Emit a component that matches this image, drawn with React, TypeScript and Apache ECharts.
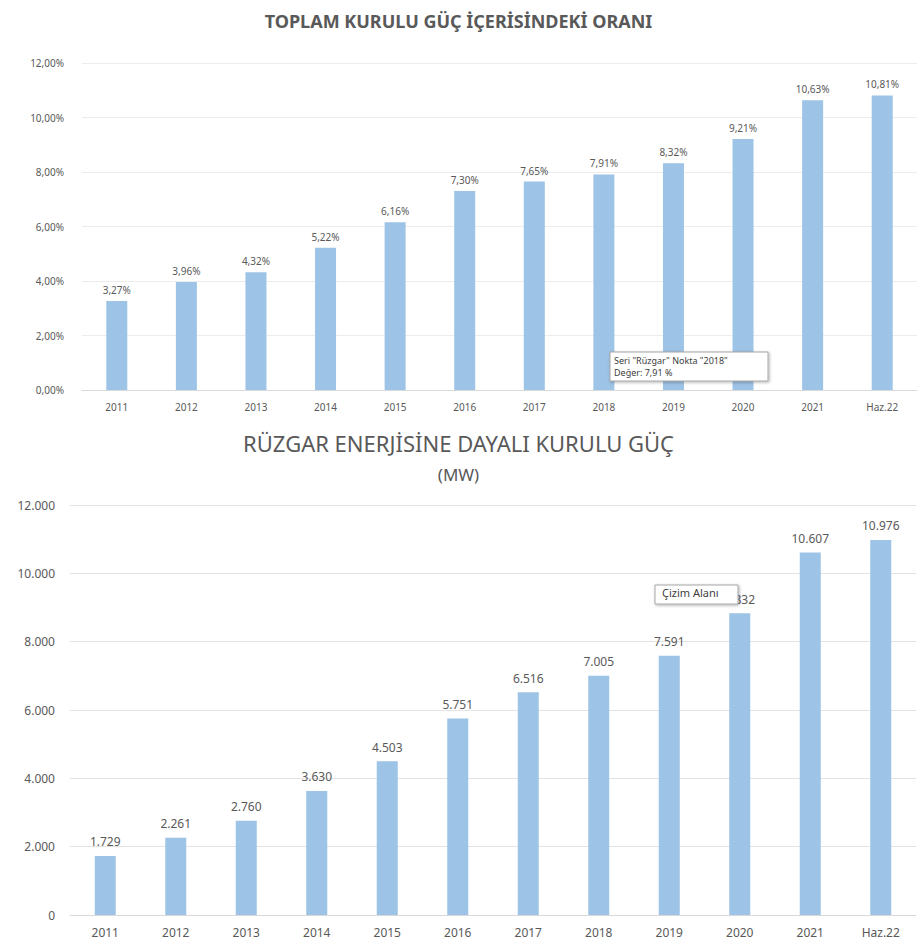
import React, { useEffect, useRef } from "react";
import * as echarts from "echarts";

const categories = ["2011", "2012", "2013", "2014", "2015", "2016", "2017", "2018", "2019", "2020", "2021", "Haz.22"];
const shareValues = [3.27, 3.96, 4.32, 5.22, 6.16, 7.3, 7.65, 7.91, 8.32, 9.21, 10.63, 10.81];
const capacityValues = [1729, 2261, 2760, 3630, 4503, 5751, 6516, 7005, 7591, 8832, 10607, 10976];
const topTitle = "TOPLAM KURULU GÜÇ İÇERİSİNDEKİ ORANI";
const bottomTitle = "RÜZGAR ENERJİSİNE DAYALI KURULU GÜÇ";
const bottomSubtitle = "(MW)";
const topTipLines = ['Seri "Rüzgar" Nokta "2018"', "Değer: 7,91 %"];
const bottomTipText = "Çizim Alanı";

const FONT = "Noto Sans";
const BAR = "#9DC3E6";
const TXT = "#595959";

const pct = (v: number) => v.toFixed(2).replace(".", ",") + "%";
const thousands = (v: number) => String(Math.round(v)).replace(/\B(?=(\d{3})+(?!\d))/g, ".");

export default function App() {
  const ref = useRef<HTMLDivElement>(null);
  useEffect(() => {
    if (!ref.current) return;
    const chart = echarts.init(ref.current, undefined, { renderer: "svg" });
    chart.setOption({
      animation: false,
      backgroundColor: "#ffffff",
      textStyle: { fontFamily: FONT },
      grid: [
        { left: 82, right: -10, top: 63, bottom: 552, containLabel: false },
        { left: 70, right: 1, top: 505, bottom: 27, containLabel: false },
      ],
      xAxis: [
        {
          type: "category",
          gridIndex: 0,
          data: categories,
          axisLine: { lineStyle: { color: "#D9D9D9" } },
          axisTick: { show: false },
          axisLabel: { color: TXT, fontSize: 10, margin: 12, fontFamily: FONT },
        },
        {
          type: "category",
          gridIndex: 1,
          data: categories,
          axisLine: { lineStyle: { color: "#D9D9D9" } },
          axisTick: { show: false },
          axisLabel: { color: TXT, fontSize: 12, margin: 11, fontFamily: FONT },
        },
      ],
      yAxis: [
        {
          type: "value",
          gridIndex: 0,
          min: 0,
          max: 12,
          interval: 2,
          axisLine: { show: false },
          axisTick: { show: false },
          splitLine: { lineStyle: { color: "#ECECEC" } },
          axisLabel: { color: TXT, fontSize: 10, margin: 18, formatter: (v: number) => pct(v), fontFamily: FONT },
        },
        {
          type: "value",
          gridIndex: 1,
          min: 0,
          max: 12000,
          interval: 2000,
          axisLine: { show: false },
          axisTick: { show: false },
          splitLine: { lineStyle: { color: "#E3E3E3" } },
          axisLabel: { color: TXT, fontSize: 12, margin: 15, formatter: (v: number) => thousands(v), fontFamily: FONT },
        },
      ],
      series: [
        {
          type: "bar",
          xAxisIndex: 0,
          yAxisIndex: 0,
          data: shareValues,
          barWidth: 21,
          itemStyle: { color: BAR },
          label: {
            show: true,
            position: "top",
            distance: 6,
            color: TXT,
            fontSize: 10,
            fontFamily: FONT,
            formatter: (p: any) => pct(p.value),
          },
        },
        {
          type: "bar",
          xAxisIndex: 1,
          yAxisIndex: 1,
          data: capacityValues,
          barWidth: 21,
          itemStyle: { color: BAR },
          label: {
            show: true,
            position: "top",
            distance: 8,
            color: TXT,
            fontSize: 12,
            fontFamily: FONT,
            formatter: (p: any) => thousands(p.value),
          },
        },
      ],
      graphic: [
        {
          type: "text",
          left: "center",
          top: 12,
          style: { text: topTitle, font: `bold 18px "${FONT}"`, fill: "#595959" },
        },
        {
          type: "text",
          left: "center",
          top: 432,
          style: { text: bottomTitle, font: `22px "${FONT}"`, fill: "#595959" },
        },
        {
          type: "text",
          left: "center",
          top: 466,
          style: { text: bottomSubtitle, font: `17px "${FONT}"`, fill: "#595959" },
        },
        {
          type: "group",
          z: 100,
          children: [
            {
              type: "rect",
              shape: { x: 610, y: 352, width: 158, height: 29 },
              style: { fill: "#ffffff", stroke: "#A6A6A6", lineWidth: 1, shadowBlur: 3, shadowColor: "rgba(0,0,0,0.3)", shadowOffsetX: 1, shadowOffsetY: 1 },
              z: 100,
            },
            {
              type: "text",
              x: 614,
              y: 354,
              style: { text: topTipLines.join("\n"), font: `9px "${FONT}"`, fill: "#404040", lineHeight: 12 },
              z: 101,
            },
          ],
        },
        {
          type: "group",
          z: 100,
          children: [
            {
              type: "rect",
              shape: { x: 655, y: 585, width: 83, height: 19 },
              style: { fill: "#ffffff", stroke: "#A6A6A6", lineWidth: 1, shadowBlur: 3, shadowColor: "rgba(0,0,0,0.3)", shadowOffsetX: 1, shadowOffsetY: 1 },
              z: 100,
            },
            {
              type: "text",
              x: 662,
              y: 587,
              style: { text: bottomTipText, font: `11px "${FONT}"`, fill: "#404040" },
              z: 101,
            },
          ],
        },
      ],
    });
    return () => chart.dispose();
  }, []);
  return (
    <div
      ref={ref}
      style={{ position: "fixed", left: 0, top: 0, width: 917, height: 942, background: "#fff" }}
    />
  );
}
